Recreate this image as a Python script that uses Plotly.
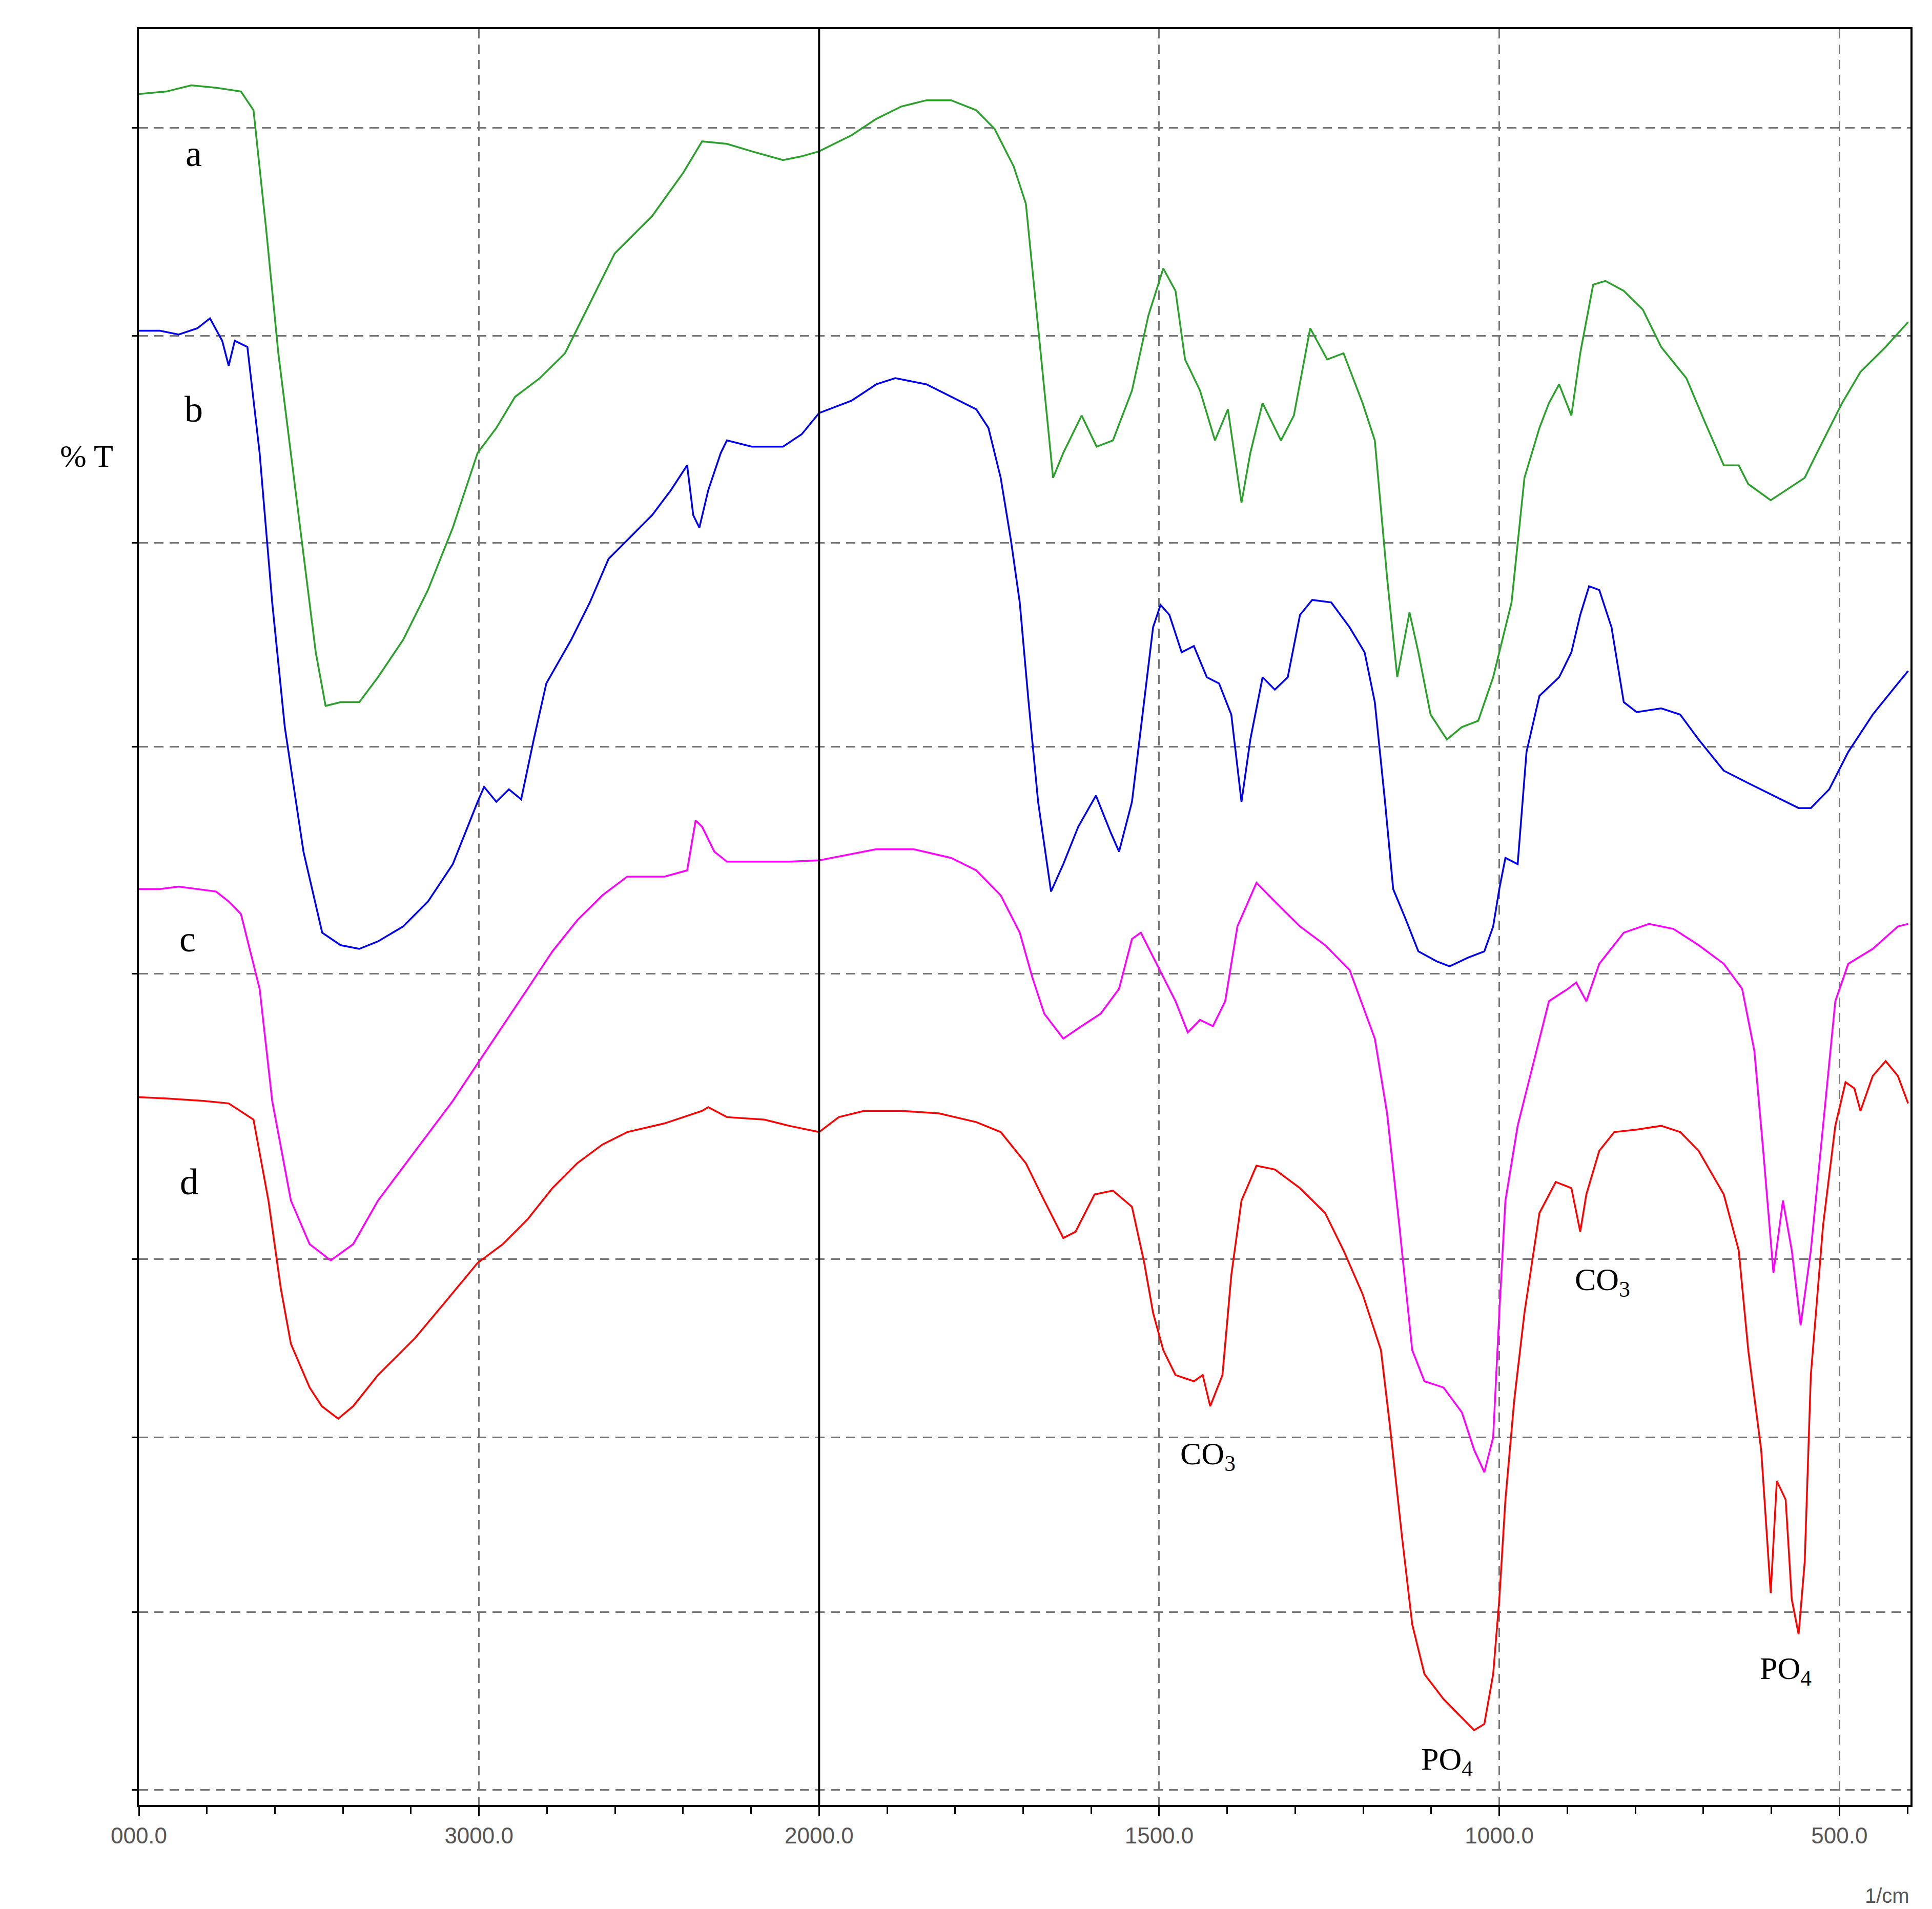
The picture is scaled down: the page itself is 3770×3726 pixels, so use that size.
import plotly.graph_objects as go

wn_a = [4000,3919,3846,3773,3700,3663,3626,3590,3535,3480,3451,3407,3352,3297,3223,3150,3077,3004,2949,2894,2821,2747,2674,2601,2491,2399,2344,2271,2198,2106,2051,2000,1952,1916,1879,1842,1806,1769,1742,1714,1696,1678,1656,1641,1614,1592,1568,1540,1516,1494,1476,1462,1440,1418,1399,1379,1366,1348,1321,1302,1278,1253,1229,1201,1183,1165,1150,1132,1119,1101,1077,1055,1031,1009,982,963,941,927,912,894,881,862,844,817,789,762,725,698,670,648,634,601,579,551,533,496,469,432,399]
t_a = [137.3,137.5,138.0,137.8,137.5,136.0,126.5,116.5,104.5,92.5,88.2,88.5,88.5,90.5,93.5,97.5,102.5,108.5,110.5,113.0,114.5,116.5,120.5,124.5,127.5,131.0,133.5,133.3,132.7,132.0,132.3,132.7,134.0,135.3,136.3,136.8,136.8,136.0,134.5,131.5,128.5,118.5,106.5,108.5,111.5,109.0,109.5,113.5,119.5,123.3,121.5,116.0,113.5,109.5,112.0,104.5,108.5,112.5,109.5,111.5,118.5,116.0,116.5,112.5,109.5,98.5,90.5,95.7,92.5,87.5,85.5,86.5,87.0,90.5,96.5,106.5,110.5,112.5,114.0,111.5,116.5,122.0,122.3,121.5,120.0,117.0,114.5,111.0,107.5,107.5,106.0,104.7,105.5,106.5,108.5,112.5,115.0,117.0,119.0]

wn_b = [4000,3938,3883,3828,3791,3755,3736,3718,3681,3645,3608,3571,3516,3461,3407,3352,3297,3223,3150,3077,3004,2985,2949,2912,2876,2839,2802,2729,2674,2619,2564,2491,2436,2388,2370,2352,2326,2289,2271,2198,2106,2051,2000,1952,1916,1888,1842,1806,1769,1751,1733,1718,1705,1692,1678,1659,1641,1619,1593,1571,1559,1540,1522,1509,1498,1485,1467,1449,1430,1412,1394,1379,1366,1348,1330,1311,1293,1275,1247,1220,1198,1183,1168,1156,1137,1119,1092,1073,1046,1022,1009,1000,991,973,960,941,912,894,881,868,853,835,817,798,762,734,707,670,634,597,560,542,515,487,451,414,399]
t_b = [118.3,118.3,118.0,118.5,119.3,117.5,115.5,117.5,117.0,108.5,96.5,86.5,76.5,70.0,69.0,68.7,69.3,70.5,72.5,75.5,80.5,81.7,80.5,81.5,80.7,85.5,90.0,93.5,96.5,100.0,101.5,103.5,105.5,107.5,103.5,102.5,105.5,108.5,109.5,109.0,109.0,110.0,111.7,112.7,114.0,114.5,114.0,113.0,112.0,110.5,106.5,101.5,96.5,88.5,80.5,73.3,75.5,78.5,81.0,78.0,76.5,80.5,88.5,94.5,96.3,95.5,92.5,93.0,90.5,90.0,87.5,80.5,85.5,90.5,89.5,90.5,95.5,96.7,96.5,94.5,92.5,88.5,80.5,73.5,71.0,68.5,67.7,67.3,68.0,68.5,70.5,73.5,76.0,75.5,84.5,89.0,90.5,92.5,95.5,97.8,97.5,94.5,88.5,87.7,88.0,87.5,85.5,83.0,82.0,81.0,80.0,80.0,81.5,84.5,87.5,90.0,91.0]

wn_c = [4000,3938,3883,3828,3773,3736,3700,3645,3608,3553,3498,3436,3370,3297,3187,3077,3004,2930,2857,2784,2711,2637,2564,2454,2388,2363,2344,2308,2271,2198,2088,2000,1952,1916,1861,1806,1769,1733,1705,1687,1669,1641,1614,1586,1559,1540,1527,1513,1494,1476,1458,1440,1421,1403,1385,1357,1330,1293,1256,1220,1183,1165,1147,1128,1110,1082,1055,1037,1022,1009,1000,991,973,945,927,899,887,872,853,817,780,744,707,670,643,625,612,597,583,570,557,542,524,506,487,451,414,399]
t_c = [73.5,73.5,73.7,73.5,73.3,72.5,71.5,65.5,56.5,48.5,45.0,43.7,45.0,48.5,52.5,56.5,59.5,62.5,65.5,68.5,71.0,73.0,74.5,74.5,75.0,79.0,78.5,76.5,75.7,75.7,75.7,75.8,76.3,76.7,76.7,76.0,75.0,73.0,70.0,66.5,63.5,61.5,62.5,63.5,65.5,69.5,70.0,68.5,66.5,64.5,62.0,63.0,62.5,64.5,70.5,74.0,72.5,70.5,69.0,67.0,61.5,55.5,46.5,36.5,34.0,33.5,31.5,28.5,26.7,29.5,39.5,48.5,54.5,60.5,64.5,65.5,66.0,64.5,67.5,70.0,70.7,70.3,69.0,67.5,65.5,60.5,52.5,42.7,48.5,44.5,38.5,44.5,54.5,64.5,67.5,68.7,70.5,70.7]

wn_d = [4000,3919,3810,3736,3663,3619,3583,3553,3498,3462,3414,3370,3297,3187,3095,3004,2930,2857,2784,2711,2637,2564,2454,2344,2326,2271,2161,2088,2000,1971,1934,1879,1824,1769,1733,1696,1669,1641,1623,1595,1568,1540,1522,1509,1494,1476,1449,1436,1425,1407,1394,1379,1357,1330,1293,1256,1229,1201,1174,1161,1143,1128,1110,1082,1055,1037,1022,1009,1000,991,978,963,941,917,894,881,872,853,831,798,762,734,707,670,648,634,615,601,592,579,570,560,551,542,524,506,491,478,469,451,432,414,399]
t_d = [56.8,56.7,56.5,56.3,55.0,48.5,41.5,37.0,33.5,32.0,31.0,32.0,34.5,37.5,40.5,43.5,45.0,47.0,49.5,51.5,53.0,54.0,54.7,55.7,56.0,55.2,55.0,54.5,54.0,55.2,55.7,55.7,55.5,54.8,54.0,51.5,48.5,45.5,46.0,49.0,49.3,48.0,43.5,39.5,36.5,34.5,34.0,34.5,32.0,34.5,42.5,48.5,51.3,51.0,49.5,47.5,44.5,41.0,36.5,30.5,21.5,14.5,10.5,8.5,7.0,6.0,6.5,10.5,16.5,24.5,32.5,39.5,47.5,50.0,49.5,46.0,49.0,52.5,54.0,54.2,54.5,54.0,52.5,49.0,44.5,36.5,28.5,17.0,26.0,24.5,16.5,13.7,19.5,34.5,46.5,54.5,58.0,57.5,55.7,58.5,59.7,58.5,56.3]

tick_wn = [4000, 3000, 2000, 1500, 1000, 500]
tick_text = ["000.0", "3000.0", "2000.0", "1500.0", "1000.0", "500.0"]
grid_t = [134.6, 117.9, 101.3, 84.9, 66.7, 43.8, 29.5, 15.5, 1.2]

def u(w):
    # instrument axis: 1000 cm-1 per division above 2000, 500 below
    return (4000 - w) / 1000 if w >= 2000 else 2 + (2000 - w) / 500

fig = go.Figure()
for wn, t, col in [(wn_a, t_a, "#2ca02c"), (wn_b, t_b, "#0000ee"),
                   (wn_c, t_c, "#ff00ff"), (wn_d, t_d, "#ff0000")]:
    fig.add_trace(go.Scatter(x=[u(w) for w in wn], y=t, mode="lines",
                             line=dict(color=col, width=3.5), showlegend=False))

fig.add_shape(type="line", xref="x", yref="paper", x0=u(2000), x1=u(2000), y0=0, y1=1,
              line=dict(color="black", width=4))

serif = "Liberation Serif"
def ann(x, y, text, size=72):
    fig.add_annotation(x=x, y=y, text=text, showarrow=False,
                       font=dict(family=serif, size=size, color="black"))
ann(0.161, 132.5, "a"); ann(0.161, 112.0, "b"); ann(0.143, 69.5, "c"); ann(0.147, 50.0, "d")
ann(3.143, 28.0, "CO<sub>3</sub>", 62); ann(4.304, 42.0, "CO<sub>3</sub>", 62)
ann(3.846, 3.5, "PO<sub>4</sub>", 62); ann(4.842, 10.8, "PO<sub>4</sub>", 62)
fig.add_annotation(xref="paper", yref="paper", x=-0.045, y=0.77, text="% T", showarrow=False,
                   font=dict(family=serif, size=62, color="black"))
fig.add_annotation(xref="paper", yref="paper", x=1.0, y=-0.058, text="1/cm", showarrow=False,
                   xanchor="right", font=dict(family="Liberation Sans", size=40, color="#555"))

fig.update_layout(
    width=3770, height=3726, paper_bgcolor="white", plot_bgcolor="white",
    margin=dict(l=263, r=50, t=49, b=211),
    xaxis=dict(range=[0, 5.209], tickvals=[u(w) for w in tick_wn], ticktext=tick_text,
               showgrid=True, gridcolor="#777", griddash="18px,12px", gridwidth=3,
               showline=True, linecolor="black", linewidth=4, mirror=True, zeroline=False,
               ticks="outside", ticklen=18, tickwidth=3, tickcolor="black",
               minor=dict(dtick=0.2, tick0=0, ticks="outside", ticklen=14, tickwidth=3, tickcolor="black", showgrid=False),
               tickfont=dict(family="Liberation Sans", size=44, color="#555")),
    yaxis=dict(range=[0, 142.5], tickvals=grid_t, showticklabels=False,
               showgrid=True, gridcolor="#777", griddash="18px,12px", gridwidth=3,
               showline=True, linecolor="black", linewidth=4, mirror=True, zeroline=False,
               ticks="outside", ticklen=10, tickwidth=3, tickcolor="black"),
)
fig.write_html("out.html")
